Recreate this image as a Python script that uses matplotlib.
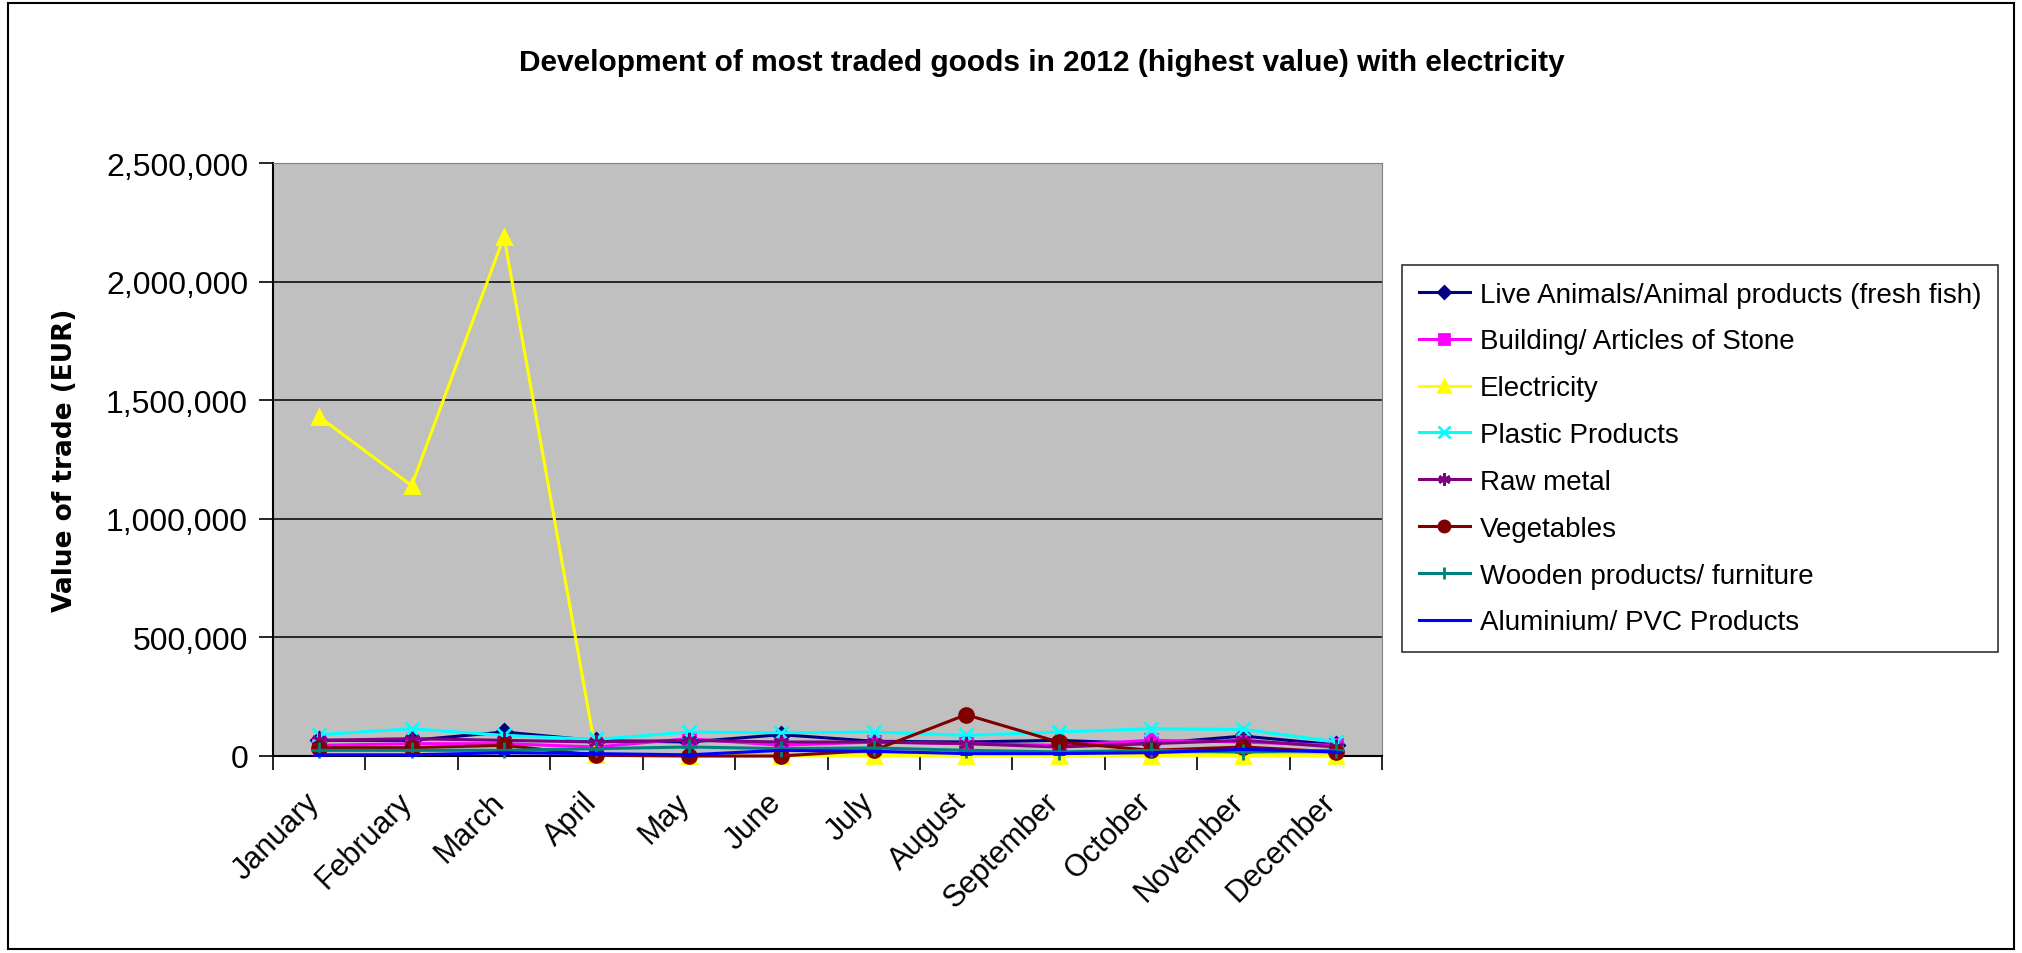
import matplotlib
matplotlib.use("Agg")
from matplotlib import pyplot as plt
from matplotlib.patches import Rectangle
from matplotlib.ticker import FuncFormatter, FixedLocator
from matplotlib.transforms import ScaledTranslation

plt.rcParams['font.family'] = ['Liberation Sans', 'DejaVu Sans']

months = ["January", "February", "March", "April", "May", "June", "July",
          "August", "September", "October", "November", "December"]

live_animals = [66000, 66000, 101000, 65000, 59000, 90000, 62000, 59000, 66000, 52000, 84000, 47000]
building = [45000, 52000, 52000, 38000, 73000, 45000, 59000, 52000, 45000, 66000, 59000, 45000]
electricity = [1430000, 1140000, 2190000, 3000, 1000, 1000, 2000, 1000, 1000, 2000, 2000, 1000]
plastic = [90000, 115000, 87000, 70000, 101000, 98000, 101000, 87000, 101000, 115000, 112000, 60000]
raw_metal = [66000, 73000, 66000, 59000, 66000, 59000, 59000, 52000, 38000, 52000, 66000, 38000]
vegetables = [35000, 35000, 45000, 3000, 0, 0, 24000, 174000, 59000, 24000, 38000, 17000]
wooden = [24000, 24000, 24000, 31000, 38000, 31000, 34000, 24000, 17000, 24000, 17000, 24000]
aluminium = [5000, 5000, 14000, 10000, 5000, 24000, 20000, 10000, 10000, 14000, 28000, 17000]

series = [
    ("Live Animals/Animal products (fresh fish)", live_animals, "#000080", "D", 8),
    ("Building/ Articles of Stone", building, "#FF00FF", "s", 9),
    ("Electricity", electricity, "#FFFF00", "^", 10),
    ("Plastic Products", plastic, "#00FFFF", "x", 10),
    ("Raw metal", raw_metal, "#800080", (6, 2, 0), 11),
    ("Vegetables", vegetables, "#800000", "o", 10),
    ("Wooden products/ furniture", wooden, "#008080", "+", 11),
    ("Aluminium/ PVC Products", aluminium, "#0000FF", "_", 9),
]

fig = plt.figure(figsize=(20.22, 9.54), dpi=100)
ax = fig.add_axes([273 / 2022, 1 - 757 / 954, 1109 / 2022, 593 / 954])
ax.set_facecolor("#C0C0C0")

x = list(range(len(months)))
for label, vals, color, marker, ms in series:
    ax.plot(x, vals, color=color, marker=marker, markersize=ms, lw=2.2,
            markeredgewidth=2, label=label, clip_on=False, zorder=3)

ax.set_xlim(-0.5, len(months) - 0.5)
ax.set_ylim(0, 2500000)
ax.set_yticks(range(0, 2500001, 500000))
ax.yaxis.set_major_formatter(FuncFormatter(lambda v, p: f"{int(v):,}"))
ax.grid(axis="y", color="black", lw=1.1)
ax.set_axisbelow(True)

ax.set_xticks(x)
ax.set_xticklabels(months, rotation=45, ha="right", rotation_mode="anchor", fontsize=22)
ax.xaxis.set_minor_locator(FixedLocator([i - 0.5 for i in range(len(months) + 1)]))
ax.tick_params(axis="x", which="major", length=0, pad=22)
ax.tick_params(axis="x", which="minor", length=10, width=1.2, direction="out")
ax.tick_params(axis="y", length=10, width=1.2, labelsize=23, pad=8)

# shift month labels slightly left so their ends sit under the category centres
shift = ScaledTranslation(-15 / 100, 0, fig.dpi_scale_trans)
for lbl in ax.get_xticklabels():
    lbl.set_transform(lbl.get_transform() + shift)

for side in ["top", "right"]:
    ax.spines[side].set_color("#808080")
ax.spines["left"].set_linewidth(1.5)
ax.spines["bottom"].set_linewidth(1.5)

ax.set_ylabel("Value of trade (EUR)", fontsize=19, fontweight="bold",
              family=["DejaVu Sans"])
ax.yaxis.set_label_coords((78 - 273) / 1109, 0.5)

fig.text(1042 / 2022, 1 - 63 / 954,
         "Development of most traded goods in 2012 (highest value) with electricity",
         ha="center", va="center", fontsize=21.5, fontweight="bold")

leg = ax.legend(loc="upper left", bbox_to_anchor=(1402 / 2022, 1 - 266 / 954),
                bbox_transform=fig.transFigure, fontsize=20, frameon=True,
                fancybox=False, edgecolor="black", handlelength=1.85,
                handletextpad=0.35, labelspacing=0.75, borderpad=0.6,
                borderaxespad=0, markerscale=0.8)
leg.get_frame().set_linewidth(1.2)

fig.patches.append(Rectangle((8 / 2022, 4 / 954), 2006 / 2022, 946 / 954,
                             transform=fig.transFigure, fill=False,
                             edgecolor="black", lw=1.5))

plt.savefig("out.png", dpi=100)
